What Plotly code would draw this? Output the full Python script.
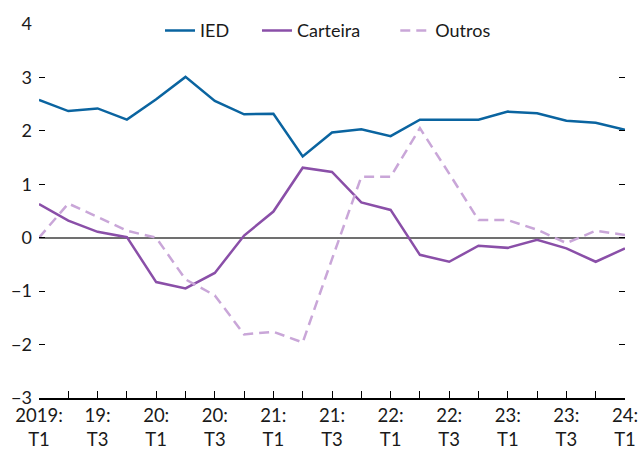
import plotly.graph_objects as go

quarters = ["2019:<br>T1", "", "19:<br>T3", "", "20:<br>T1", "", "20:<br>T3", "",
            "21:<br>T1", "", "21:<br>T3", "", "22:<br>T1", "", "22:<br>T3", "",
            "23:<br>T1", "", "23:<br>T3", "", "24:<br>T1"]

ied = [2.58, 2.37, 2.42, 2.21, 2.59, 3.01, 2.56, 2.31, 2.32, 1.52, 1.97,
       2.03, 1.90, 2.21, 2.21, 2.21, 2.36, 2.33, 2.19, 2.15, 2.02]
carteira = [0.63, 0.32, 0.11, 0.01, -0.83, -0.95, -0.66, 0.04, 0.49, 1.31, 1.23,
            0.66, 0.52, -0.32, -0.45, -0.15, -0.19, -0.04, -0.20, -0.45, -0.20]
outros = [0.0, 0.64, 0.39, 0.13, 0.0, -0.78, -1.08, -1.81, -1.76, -1.96, -0.40,
          1.14, 1.14, 2.05, 1.20, 0.33, 0.33, 0.15, -0.10, 0.13, 0.05]

x = list(range(len(quarters)))
font = dict(family="Lato, 'Open Sans', sans-serif", size=18, color="#1a1a1a")

fig = go.Figure()
fig.add_trace(go.Scatter(x=x, y=ied, mode="lines", name="IED", legend="legend",
                         line=dict(color="#0a64a0", width=2.5)))
fig.add_trace(go.Scatter(x=x, y=carteira, mode="lines", name="Carteira", legend="legend2",
                         line=dict(color="#8a4fa8", width=2.5)))
fig.add_trace(go.Scatter(x=x, y=outros, mode="lines", name="Outros", legend="legend3",
                         line=dict(color="#c9a6d8", width=2.5, dash="10px,6px")))

# one legend per series so each entry can sit where the reference has it
leg = dict(orientation="h", y=0.982, yanchor="middle", xanchor="left",
           bgcolor="rgba(0,0,0,0)", font=font, itemwidth=30)

fig.update_layout(
    width=639, height=449,
    margin=dict(l=39, r=14, t=21, b=51),
    paper_bgcolor="white", plot_bgcolor="white",
    font=font,
    showlegend=True,
    legend=dict(leg, x=0.2065),
    legend2=dict(leg, x=0.372),
    legend3=dict(leg, x=0.608),
    xaxis=dict(range=[0, 20], tickvals=x, ticktext=quarters, ticks="inside",
               ticklen=7, tickwidth=1.3, tickcolor="black", showgrid=False,
               showline=True, linecolor="black", linewidth=1.5, zeroline=False,
               tickangle=0, tickfont=dict(size=18.5), automargin=False),
    yaxis=dict(range=[-3, 4], dtick=1, ticks="inside", ticklen=6, tickwidth=1.3,
               tickcolor="black", mirror="ticks", showgrid=False, showline=False,
               zeroline=True, zerolinecolor="#707070", zerolinewidth=1.5,
               ticklabelstandoff=6, automargin=False),
)

fig.write_html("out.html", config={"displayModeBar": False},
               post_script="document.body.style.margin='0';")
